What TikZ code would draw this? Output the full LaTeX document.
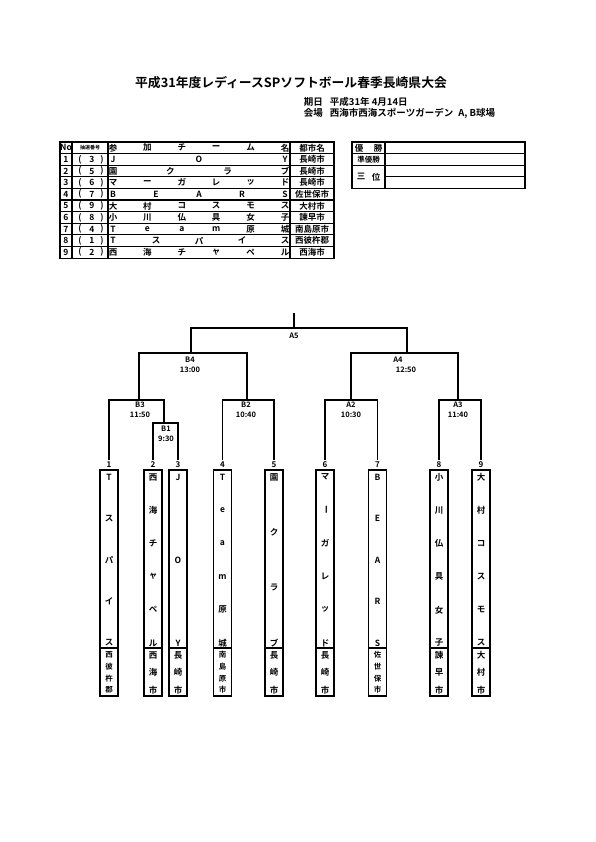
\documentclass[tikz,border=0pt]{standalone}
\usepackage{fontspec}
\setmainfont{Noto Sans CJK JP}[BoldFont={Noto Sans CJK JP Bold}]
\usetikzlibrary{positioning}

\tikzset{
  cell/.style={inner sep=0pt,font=\bfseries\fontsize{8.5}{8.5}\selectfont},
  match/.style={inner sep=0.5pt,font=\bfseries\fontsize{7.5}{7.5}\selectfont},
  num/.style={inner sep=1pt,font=\bfseries\fontsize{8}{8}\selectfont},
  teambox/.style={draw,line width=1.5pt,minimum width=18pt,minimum height=178pt,inner sep=0pt},
  citybox/.style={draw,line width=1.5pt,minimum width=18pt,minimum height=48pt,inner sep=0pt}
}

\begin{document}
\begin{tikzpicture}[x=1pt,y=-1pt,line width=1.3pt]
        \useasboundingbox (0,0) rectangle (595,842);
        % heading
        \node[font=\bfseries\fontsize{12.8}{12.8}\selectfont] (title) at (291,83) {平成31年度レディースSPソフトボール春季長崎県大会};
        \node[anchor=west,font=\bfseries\fontsize{9.5}{9.5}\selectfont] (date) at (300,102) {期日\hspace{7pt}平成31年 4月14日};
        \node[anchor=west,font=\bfseries\fontsize{9.5}{9.5}\selectfont] (venue) at (300,113) {会場\hspace{7pt}西海市西海スポーツガーデン\hspace{5pt}A, B球場};

        % entry list
        \draw[line width=1.6pt] (60,142) rectangle (334,258.4);
        \foreach \x in {72,108,290} \draw (\x,142) -- (\x,258.4);
        \foreach \r in {1,...,9} \draw (60,{142+11.6*\r}) -- (334,{142+11.6*\r});
        \node[cell] (hno) at (66,147.8) {No};
        \node[cell,font=\bfseries\fontsize{5}{5}\selectfont] (hlot) at (90,147.8) {抽選番号};
        \foreach \c [count=\k] in {参,加,チ,ー,ム,名}
          \node[cell] (hnm\k) at ({113+(\k-1)*172/5},147.8) {\c};
        \node[cell] (hcity) at (312,147.8) {都市名};
        \foreach \no/\lot/\n/\chars/\city in {
            1/3/3/{J,O,Y}/長崎市,
            2/5/4/{園,ク,ラ,ブ}/長崎市,
            3/6/6/{マ,ー,ガ,レ,ッ,ド}/長崎市,
            4/7/5/{B,E,A,R,S}/佐世保市,
            5/9/6/{大,村,コ,ス,モ,ス}/大村市,
            6/8/6/{小,川,仏,具,女,子}/諫早市,
            7/4/6/{T,e,a,m,原,城}/南島原市,
            8/1/5/{T,ス,パ,イ,ス}/西彼杵郡,
            9/2/6/{西,海,チ,ャ,ペ,ル}/西海市}{
          \pgfmathsetmacro{\yy}{147.8+11.6*\no}
          \node[cell] (no\no) at (66,\yy) {\no};
          \node[cell] (lp\no) at (80,\yy) {(};
          \node[cell] (lot\no) at (92,\yy) {\lot};
          \node[cell] (rp\no) at (102,\yy) {)};
          \foreach \c [count=\k] in \chars
            \node[cell] (nm\no-\k) at ({113+(\k-1)*172/(\n-1)},\yy) {\c};
          \node[cell] (city\no) at (312,\yy) {\city};
        }

        % results
        \draw[line width=1.6pt] (352,142) rectangle (525,188.4);
        \draw (385,142) -- (385,188.4);
        \draw (352,153.6) -- (525,153.6);
        \draw (352,165.2) -- (525,165.2);
        \draw (385,176.8) -- (525,176.8);
        \node[cell] (win1) at (359,147.8) {優};
        \node[cell] (win2) at (378,147.8) {勝};
        \node[cell,font=\bfseries\fontsize{7.5}{7.5}\selectfont] (second) at (368.5,159.4) {準優勝};
        \node[cell] (third1) at (361,176.8) {三};
        \node[cell] (third2) at (376,176.8) {位};

        % draw
        \coordinate (top) at (294,313);
        \coordinate (jA5) at (294,328);
        \coordinate (jB4) at (191,353);
        \coordinate (jA4) at (407,353);
        \coordinate (jB3) at (139,400);
        \coordinate (jB2) at (247,400);
        \coordinate (jA2) at (351,400);
        \coordinate (jA3) at (458,400);
        \coordinate (jB1) at (164,423);

        \node[match] (lA5) at (294,336) {A5};
        \node[match] (lB4) at (190,360) {B4};
        \node[match,below=2pt of lB4] (tB4) {13:00};
        \node[match] (lA4) at (398,360) {A4};
        \node[match,below=2pt of lA4,xshift=8pt] (tA4) {12:50};
        \node[match] (lB3) at (140,405) {B3};
        \node[match,below=2pt of lB3] (tB3) {11:50};
        \node[match] (lB1) at (166,429) {B1};
        \node[match,below=2pt of lB1] (tB1) {9:30};
        \node[match] (lB2) at (246,405) {B2};
        \node[match,below=2pt of lB2] (tB2) {10:40};
        \node[match] (lA2) at (351,405) {A2};
        \node[match,below=2pt of lA2] (tA2) {10:30};
        \node[match] (lA3) at (458,405) {A3};
        \node[match,below=2pt of lA3] (tA3) {11:40};

        \foreach \p/\x/\n/\chars/\m/\fs/\cty in {
            1/109/5/{T,ス,パ,イ,ス}/4/7.5/{西,彼,杵,郡},
            2/153/6/{西,海,チ,ャ,ペ,ル}/3/8.5/{西,海,市},
            3/178/3/{J,O,Y}/3/8.5/{長,崎,市},
            4/222.5/6/{T,e,a,m,原,城}/4/7.5/{南,島,原,市},
            5/274/4/{園,ク,ラ,ブ}/3/8.5/{長,崎,市},
            6/325/6/{マ,{\rotatebox{-90}{ー}},ガ,レ,ッ,ド}/3/8.5/{長,崎,市},
            7/377.5/5/{B,E,A,R,S}/4/7.5/{佐,世,保,市},
            8/439/6/{小,川,仏,具,女,子}/3/8.5/{諫,早,市},
            9/481/6/{大,村,コ,ス,モ,ス}/3/8.5/{大,村,市}}{
          \node[num] (n\p) at (\x,465) {\p};
          \node[teambox] (box\p) at (\x,559) {};
          \node[citybox] (cbox\p) at (\x,672) {};
          \foreach \c [count=\k] in \chars
            \node[cell] (tm\p-\k) at (\x,{477+(\k-1)*166/(\n-1)}) {\c};
          \foreach \c [count=\k] in \cty
            \node[cell,font=\bfseries\fontsize{\fs}{\fs}\selectfont] (ct\p-\k) at (\x,{655+(\k-1)*35/(\m-1)}) {\c};
        }

        \draw (top) -- (jA5);
        \draw (jB4) |- (jA5) -| (jA4);
        \draw (jB3) |- (jB4) -| (jB2);
        \draw (jA2) |- (jA4) -| (jA3);
        \draw (n1.north) |- (jB3) -| (jB1);
        \draw (n2.north) |- (jB1) -| (n3.north);
        \draw (n4.north) |- (jB2) -| (n5.north);
        \draw (n6.north) |- (jA2) -| (n7.north);
        \draw (n8.north) |- (jA3) -| (n9.north);
    \end{tikzpicture}
\end{document}
